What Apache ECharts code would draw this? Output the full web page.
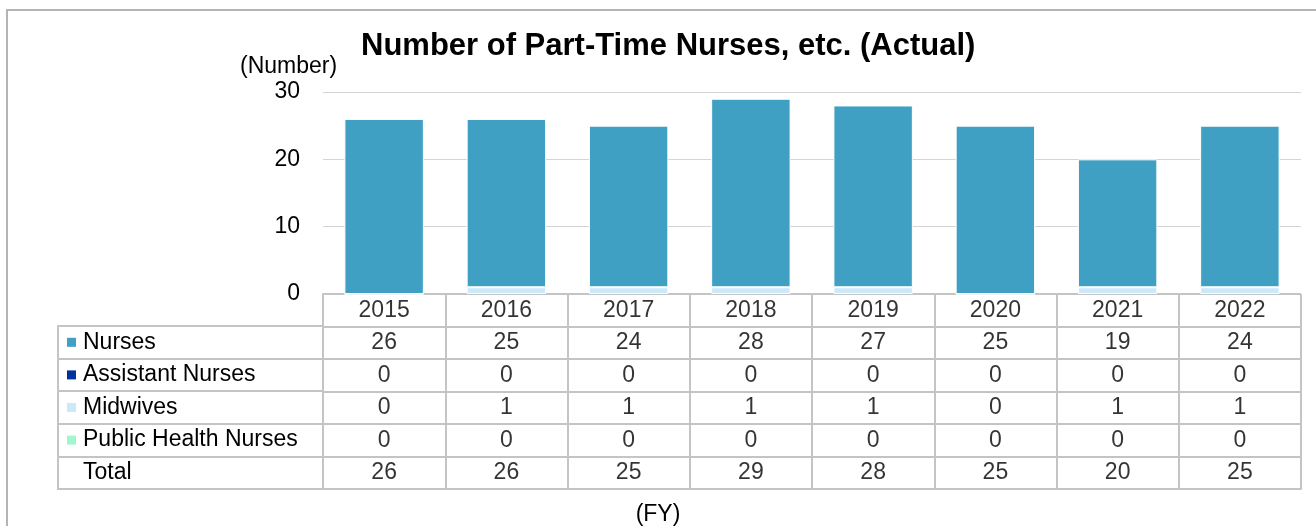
<!DOCTYPE html>
<html>
<head>
<meta charset="utf-8">
<script src="https://cdn.jsdelivr.net/npm/echarts@6/dist/echarts.min.js"></script>
<style>
  body { margin: 0; background: #fff; }
  #frame { position: absolute; left: 6px; top: 9px; width: 1330px; height: 540px; border: 2px solid #b4b4b4; }
  #chart { position: absolute; left: 0; top: 0; width: 1316px; height: 526px; }
</style>
</head>
<body>
<div id="frame"></div>
<div id="chart"></div>
<script>
// fiscal years
var years = ['2015', '2016', '2017', '2018', '2019', '2020', '2021', '2022'];
var nurses = [26, 25, 24, 28, 27, 25, 19, 24];
var assistantNurses = [0, 0, 0, 0, 0, 0, 0, 0];
var midwives = [0, 1, 1, 1, 1, 0, 1, 1];
var publicHealthNurses = [0, 0, 0, 0, 0, 0, 0, 0];
var totals = [26, 26, 25, 29, 28, 25, 20, 25];
var rowNames = ['Nurses', 'Assistant Nurses', 'Midwives', 'Public Health Nurses', 'Total'];
var rowColors = ['#3fa0c4', '#003399', '#cce9fa', '#9ff6cf', 'transparent'];

var font = 'Liberation Sans, Arial, sans-serif';
var fs = 23;
var lineColor = '#c4c4c4';

var chart = echarts.init(document.getElementById('chart'));

// table cells: header row (years) + one row per series + total
var rows = [years, nurses, assistantNurses, midwives, publicHealthNurses, totals];
var cells = [];
rows.forEach(function (vals, r) {
    vals.forEach(function (v, i) {
        cells.push([i, r, String(v)]);
    });
});

var rich = {};
rowColors.forEach(function (c, i) {
    rich['m' + i] = { width: 9, height: 9, backgroundColor: c };
});
rich.t = { fontSize: fs, fontFamily: font, color: '#000', padding: [0, 0, 0, 7] };

function barSeries(name, data, color) {
    return {
        name: name,
        type: 'bar',
        stack: 'all',
        barWidth: '65%',
        data: data,
        itemStyle: { color: color, borderColor: '#fff', borderWidth: data === nurses || data === midwives ? 1 : 0 },
        xAxisIndex: 0,
        yAxisIndex: 0
    };
}

var option = {
    animation: false,
    title: [
        { text: 'Number of Part-Time Nurses, etc. (Actual)', left: 356, top: 26,
          textStyle: { fontSize: 31, fontWeight: 'bold', fontFamily: font, color: '#000' } },
        { text: '(Number)', left: 235, top: 50,
          textStyle: { fontSize: fs, fontWeight: 'normal', fontFamily: font, color: '#000' } },
        { text: '(FY)', left: 'center', top: 498,
          textStyle: { fontSize: fs, fontWeight: 'normal', fontFamily: font, color: '#000' } }
    ],
    grid: [
        { left: 323, right: 15, top: 92, height: 202 },
        { left: 323, right: 15, top: 294, bottom: 37 },
        { left: 58, width: 265, top: 326, bottom: 37 }
    ],
    xAxis: [
        { type: 'category', data: years, gridIndex: 0,
          axisLine: { show: false }, axisTick: { show: false }, axisLabel: { show: false } },
        { type: 'category', data: years, gridIndex: 1,
          axisLine: { show: true, lineStyle: { color: lineColor, width: 2 } },
          axisTick: { show: false }, axisLabel: { show: false },
          splitLine: { show: true, lineStyle: { color: lineColor, width: 2 } } },
        { type: 'category', data: [''], gridIndex: 2,
          axisLine: { show: true, lineStyle: { color: lineColor, width: 2 } },
          axisTick: { show: false }, axisLabel: { show: false },
          splitLine: { show: true, lineStyle: { color: lineColor, width: 2 } } }
    ],
    yAxis: [
        { type: 'value', gridIndex: 0, min: 0, max: 30, interval: 10,
          axisLine: { show: false }, axisTick: { show: false },
          axisLabel: { fontSize: fs, fontFamily: font, color: '#000', margin: 23 },
          splitLine: { lineStyle: { color: '#d4d4d4', width: 1 } } },
        { type: 'category', gridIndex: 1, inverse: true, data: [''].concat(rowNames),
          axisLine: { show: true, lineStyle: { color: lineColor, width: 2 } },
          axisTick: { show: false }, axisLabel: { show: false },
          splitLine: { show: true, lineStyle: { color: lineColor, width: 2 } } },
        { type: 'category', gridIndex: 2, inverse: true, data: rowNames,
          axisLine: { show: true, lineStyle: { color: lineColor, width: 2 } },
          axisTick: { show: false },
          axisLabel: {
              inside: true, margin: 9,
              formatter: function (v, i) { return '{m' + i + '|}{t|' + v + '}'; },
              rich: rich
          },
          splitLine: { show: true, lineStyle: { color: lineColor, width: 2 } } }
    ],
    series: [
        barSeries('Midwives', midwives, rowColors[2]),
        barSeries('Public Health Nurses', publicHealthNurses, rowColors[3]),
        barSeries('Assistant Nurses', assistantNurses, rowColors[1]),
        barSeries('Nurses', nurses, rowColors[0]),
        {
            type: 'scatter',
            xAxisIndex: 1,
            yAxisIndex: 1,
            symbolSize: 1,
            itemStyle: { color: 'transparent' },
            data: cells,
            label: {
                show: true,
                position: 'inside',
                formatter: function (p) { return p.value[2]; },
                fontSize: fs,
                fontFamily: font,
                color: '#000'
            }
        }
    ]
};

chart.setOption(option);
</script>
</body>
</html>
